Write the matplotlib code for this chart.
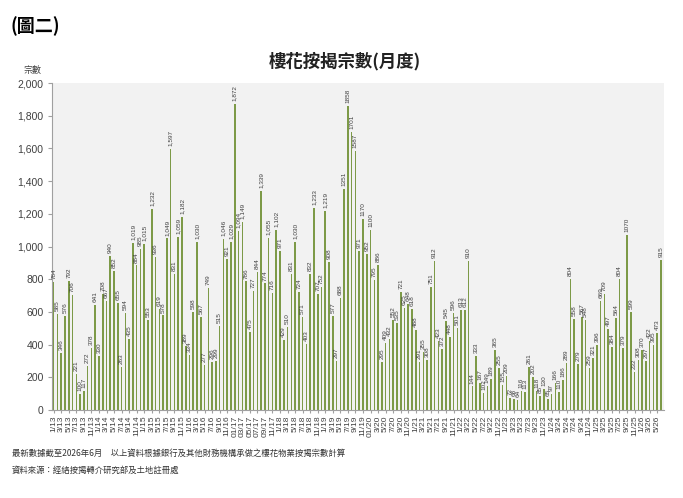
import matplotlib
matplotlib.use("Agg")
import matplotlib.pyplot as plt
import numpy as np

plt.rcParams['font.family'] = ['Noto Sans CJK TC', 'DejaVu Sans']

# Monthly off-plan mortgage counts, Jan 2013 - Jun 2026
v2013 = [784, 585, 346, 576, 792, 706, 221, 100, 117, 272, 378, 641]
v2014 = [330, 708, 667, 940, 852, 655, 263, 594, 435, 1019, 884, 985]
v2015 = [1015, 553, 1232, 936, 619, 578, 1049, 1597, 831, 1059, 1182, 389]
v2016 = [334, 598, 1030, 567, 277, 749, 296, 299, 515, 1046, 921, 1029]
v2017 = [1872, 1094, 1149, 786, 475, 727, 844, 1339, 774, 1055, 716, 1102]
v2018 = [971, 429, 510, 831, 1030, 724, 571, 403, 832, 1233, 707, 752]
v2019 = [1219, 908, 577, 297, 688, 1351, 1858, 1701, 1587, 971, 1170, 952]
v2020 = [1100, 795, 886, 295, 409, 432, 552, 535, 721, 625, 648, 618]
v2021 = [488, 291, 355, 308, 751, 912, 423, 372, 545, 448, 596, 501]
v2022 = [613, 612, 910, 144, 333, 167, 102, 149, 189, 365, 255, 155]
v2023 = [209, 72, 68, 64, 116, 113, 261, 202, 118, 85, 130, 65]
v2024 = [97, 166, 110, 186, 289, 804, 558, 279, 567, 548, 259, 321]
v2025 = [396, 669, 709, 497, 384, 564, 804, 379, 1070, 599, 232, 308]
v2026 = [370, 297, 422, 395, 473, 915]

values = (v2013 + v2014 + v2015 + v2016 + v2017 + v2018 + v2019 + v2020
          + v2021 + v2022 + v2023 + v2024 + v2025 + v2026)
start_year = 13
months = [(start_year + i // 12, i % 12 + 1) for i in range(len(values))]

def month_label(yy, m):
    if yy == 17 and m <= 9:
        return f"{m:02d}/{yy}"
    if yy == 20 and m == 1:
        return f"{m:02d}/{yy}"
    return f"{m}/{yy}"

tick_idx = list(range(0, len(values), 2))
tick_labels = [month_label(*months[i]) for i in tick_idx]

title = "樓花按揭宗數(月度)"
fig_label = "(圖二)"
ylabel = "宗數"
note1 = "最新數據截至2026年6月　以上資料根據銀行及其他財務機構承做之樓花物業按揭宗數計算"
note2 = "資料來源：經絡按揭轉介研究部及土地註冊處"

W, H = 683, 498
fig = plt.figure(figsize=(W / 100, H / 100), dpi=100)
fig.patch.set_facecolor("white")
ax = fig.add_axes([52 / W, (H - 410) / H, (664 - 52) / W, (410 - 83) / H])
ax.set_facecolor("#f2f2f2")

x = np.arange(len(values))
bar_color = "#7d9a48"
ax.bar(x, values, width=0.42, color=bar_color, edgecolor="none", zorder=2)

for i, v in enumerate(values):
    txt = f"{v:,}" if (v >= 1000 and i < 77) else f"{v}"
    ax.text(i, v + 18, txt, rotation=90, ha="center", va="bottom",
            fontsize=4.6, color="#404040", family=["Liberation Sans", "DejaVu Sans"])

ax.set_xlim(-0.45, 161.8)
ax.set_ylim(0, 2000)
ax.set_yticks(range(0, 2001, 200))
ax.set_yticklabels([f"{t:,}" for t in range(0, 2001, 200)], fontsize=7.5,
                   color="#404040", family=["Liberation Sans", "DejaVu Sans"])
ax.set_xticks(tick_idx)
ax.set_xticklabels(tick_labels, rotation=90, fontsize=6, color="#404040",
                   family=["Liberation Sans", "DejaVu Sans"])
ax.tick_params(axis="y", length=3, color="#a0a0a0", pad=3)
ax.tick_params(axis="x", length=2, color="#a0a0a0", pad=2)
for s in ["top", "right"]:
    ax.spines[s].set_visible(False)
ax.spines["left"].set_color("#a0a0a0")
ax.spines["bottom"].set_color("#a0a0a0")
ax.spines["left"].set_linewidth(0.8)
ax.spines["bottom"].set_linewidth(0.8)

fig.text(10 / W, 1 - 26 / H, fig_label, fontsize=13, fontweight="bold",
         ha="left", va="center", color="black")
fig.text(345 / W, 1 - 61 / H, title, fontsize=12.5, fontweight="bold",
         ha="center", va="center", color="#222222")
fig.text(32 / W, 1 - 70 / H, ylabel, fontsize=6.5, ha="center", va="center",
         color="#404040")
fig.text(12 / W, 1 - 453 / H, note1, fontsize=6, ha="left", va="center",
         color="#333333")
fig.text(12 / W, 1 - 470 / H, note2, fontsize=6, ha="left", va="center",
         color="#333333")

fig.savefig("out.png", dpi=100)
